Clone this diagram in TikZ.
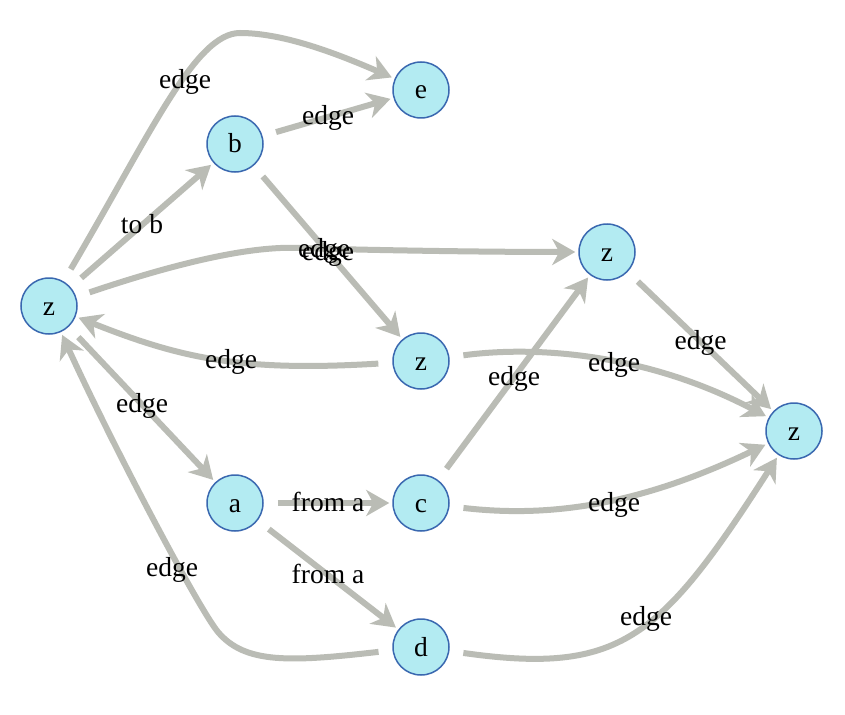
\documentclass[tikz,border=0pt]{standalone}
\usepackage{fontspec}
\setmainfont{Liberation Serif}
\usetikzlibrary{arrows.meta}
\definecolor{edgegray}{RGB}{186,188,181}
\definecolor{nodefill}{RGB}{179,235,242}
\definecolor{nodeline}{RGB}{58,104,176}
\newcommand\dgfont{\fontsize{27.5}{30}\selectfont}
\tikzset{
  vert/.style={circle, draw=nodeline, fill=nodefill, line width=1.5pt,
    minimum size=56pt, inner sep=0pt, font=\dgfont,
    text height=19pt, text depth=1pt},
  conn/.style={draw=edgegray, line width=6pt,
    -{Stealth[length=23pt,width=26pt,inset=7pt]},
    shorten <=14pt, shorten >=3pt},
  lbl/.style={font=\dgfont, inner sep=0pt, text=black,
    text height=19pt, text depth=3pt}
}
\begin{document}
\begin{tikzpicture}[x=1pt,y=-1pt]
\useasboundingbox (0,0) rectangle (845,714);
\fill[white] (0,0) rectangle (845,714);
% nodes
\node[vert] (z0) at (49,306) {z};
\node[vert] (b)  at (235,144) {b};
\node[vert] (e)  at (421,90) {e};
\node[vert] (z1) at (607,252) {z};
\node[vert] (z2) at (421,361) {z};
\node[vert] (a)  at (235,503) {a};
\node[vert] (c)  at (421,503) {c};
\node[vert] (d)  at (421,647) {d};
\node[vert] (z3) at (794,431) {z};
% connectors
\draw[conn] (z0) .. controls (150,135) and (195,33) .. (240,33)
  .. controls (285,33) and (340,55) .. (e) node[lbl] at (185,81) {edge};
\draw[conn] (z0) -- (b) node[lbl, midway] {to b};
\draw[conn] (b) -- (e) node[lbl, midway] {edge};
\draw[conn] (b) -- (z2);
\draw[conn] (z0) .. controls (150,272) and (240,245) .. (300,248)
  .. controls (360,250) and (480,252) .. (z1) node[lbl] at (324,249) {edge};
\path (b) -- (z2) node[lbl, midway] {edge};
\draw[conn] (z2) .. controls (240,372) and (180,358) .. (z0) node[lbl] at (231,360) {edge};
\draw[conn] (z0) -- (a) node[lbl, midway] {edge};
\draw[conn] (a) -- (c) node[lbl, midway] {from a};
\draw[conn] (a) -- (d) node[lbl, midway] {from a};
\draw[conn] (d) .. controls (290,662) and (245,664) .. (218,632)
  .. controls (198,608) and (110,440) .. (z0) node[lbl] at (172,568) {edge};
\draw[conn] (c) -- (z1) node[lbl, midway] {edge};
\draw[conn] (z2) .. controls (540,345) and (650,355) .. (z3) node[lbl] at (614,363) {edge};
\draw[conn] (z1) -- (z3) node[lbl, midway] {edge};
\draw[conn] (c) .. controls (550,518) and (640,505) .. (z3) node[lbl] at (614,503) {edge};
\draw[conn] (d) .. controls (620,675) and (660,640) .. (z3) node[lbl] at (646,617) {edge};
\end{tikzpicture}
\end{document}
